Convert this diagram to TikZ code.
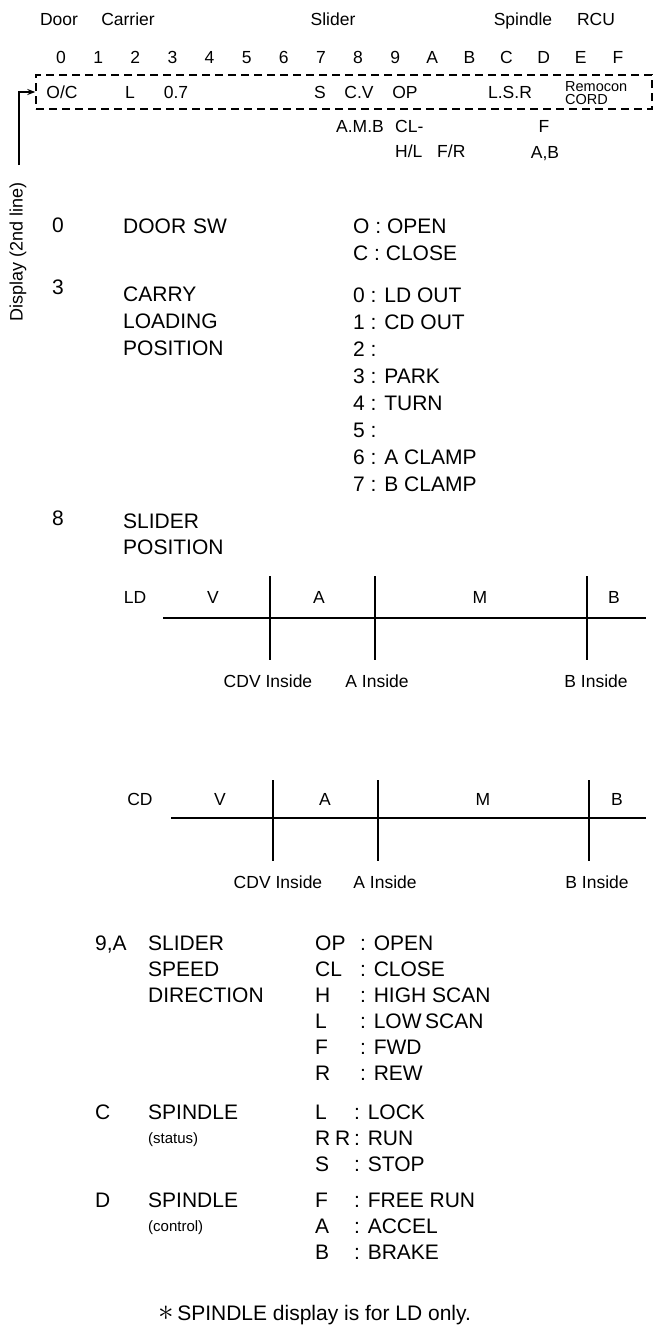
\documentclass[tikz,border=0pt]{standalone}
\usepackage{fontspec}
\setmainfont{Liberation Sans}
\usetikzlibrary{arrows.meta}
\begin{document}
\begin{tikzpicture}[x=1pt,y=-1pt,
  hdr/.style={font=\fontsize{17.5}{20}\selectfont, inner sep=0pt, text height=12.5pt, text depth=0pt},
  txt/.style={font=\fontsize{21}{25}\selectfont, inner sep=0pt, text height=15pt, text depth=0pt},
  smalltxt/.style={font=\fontsize{15}{17}\selectfont, inner sep=0pt, text height=10.7pt, text depth=0pt},
  remtxt/.style={font=\fontsize{14.5}{16}\selectfont, inner sep=0pt, text height=10.4pt, text depth=0pt},
  dispbox/.style={draw, line width=1.4pt, dash pattern=on 8pt off 5pt, inner sep=0pt},
  rule/.style={line width=1.3pt},
  conn/.style={line width=1.4pt, -{Stealth[length=8pt,width=6pt]}}
]
\useasboundingbox (0,0) rectangle (655,1326);

% ---------- header ----------
\node[hdr] (hdoor) at (59,19) {Door};
\node[hdr] (hcarrier) at (128,19) {Carrier};
\node[hdr] (hslider) at (333,19) {Slider};
\node[hdr] (hspindle) at (523,19) {Spindle};
\node[hdr] (hrcu) at (596,19) {RCU};

\foreach \d [count=\i from 0] in {0,1,2,3,4,5,6,7,8,9,A,B,C,D,E,F}
  \node[hdr] (d\d) at ({61+37.13*\i},57) {\d};

% ---------- display box ----------
\node[dispbox, minimum width=616pt, minimum height=34pt] (box) at (344,92) {};
\node[hdr] (boc) at (62,92) {O/C};
\node[hdr] (bl) at (130,92) {L};
\node[hdr] (b07) at (176,92) {0.7};
\node[hdr] (bs) at (320,92) {S};
\node[hdr] (bcv) at (359,92) {C.V};
\node[hdr] (bop) at (405,92) {OP};
\node[hdr] (blsr) at (510,92) {L.S.R};
\node[remtxt, anchor=west] (brem) at (565,86) {Remocon};
\node[remtxt, anchor=west] (bcord) at (565,99) {CORD};

\node[hdr] (uamb) at (360,126) {A.M.B};
\node[hdr, anchor=west] (ucl) at (395,126) {CL-};
\node[hdr] (uf) at (544,126) {F};
\node[hdr, anchor=west] (uhl) at (395,151) {H/L};
\node[hdr, anchor=west] (ufr) at (437,151) {F/R};
\node[hdr] (uab) at (545,152) {A,B};

% ---------- display label and arrow ----------
\coordinate (arrfoot) at (19,165);
\draw[conn] (arrfoot) |- (box.west);
\node[font=\fontsize{18}{20}\selectfont, inner sep=0pt, rotate=90] (disp) at (18,252) {Display (2nd line)};

% ---------- section 0 ----------
\node[txt] (s0) at (58,225) {0};
\node[txt, anchor=west] (s0name) at (123,226) {DOOR\,\,SW};
\node[txt, anchor=west] (s0v1) at (353,226) {O : OPEN};
\node[txt, anchor=west] (s0v2) at (353,253) {C : CLOSE};

% ---------- section 3 ----------
\node[txt] (s3) at (58,287) {3};
\node[txt, anchor=west] (s3n1) at (123,294) {CARRY};
\node[txt, anchor=west] (s3n2) at (123,321) {LOADING};
\node[txt, anchor=west] (s3n3) at (123,348) {POSITION};
\node[txt, anchor=west] (s3v0) at (353,295) {0 : LD OUT};
\node[txt, anchor=west] (s3v1) at (353,322) {1 : CD OUT};
\node[txt, anchor=west] (s3v2) at (353,349) {2 :};
\node[txt, anchor=west] (s3v3) at (353,376) {3 : PARK};
\node[txt, anchor=west] (s3v4) at (353,403) {4 : TURN};
\node[txt, anchor=west] (s3v5) at (353,430) {5 :};
\node[txt, anchor=west] (s3v6) at (353,457) {6 : A CLAMP};
\node[txt, anchor=west] (s3v7) at (353,484) {7 : B CLAMP};

% ---------- section 8 ----------
\node[txt] (s8) at (58,518) {8};
\node[txt, anchor=west] (s8n1) at (123,521) {SLIDER};
\node[txt, anchor=west] (s8n2) at (123,547) {POSITION};

% LD diagram
\node[hdr] (ldlab) at (135,597) {LD};
\node[hdr] (ldv) at (213,597) {V};
\node[hdr] (lda) at (319,597) {A};
\node[hdr] (ldm) at (480,597) {M};
\node[hdr] (ldb) at (614,597) {B};
\coordinate (ldl) at (163,618);
\coordinate (ldr) at (646,618);
\draw[rule] (ldl) -- (ldr);
\coordinate (ldc1t) at (270,576); \coordinate (ldc1b) at (270,660);
\coordinate (ldc2t) at (375,576); \coordinate (ldc2b) at (375,660);
\coordinate (ldc3t) at (587,576); \coordinate (ldc3b) at (587,660);
\draw[rule] (ldc1t) -- (ldc1b);
\draw[rule] (ldc2t) -- (ldc2b);
\draw[rule] (ldc3t) -- (ldc3b);
\node[hdr] (ldi1) at (268,681) {CDV Inside};
\node[hdr] (ldi2) at (377,681) {A Inside};
\node[hdr] (ldi3) at (596,681) {B Inside};

% CD diagram
\node[hdr] (cdlab) at (140,799) {CD};
\node[hdr] (cdv) at (220,799) {V};
\node[hdr] (cda) at (325,799) {A};
\node[hdr] (cdm) at (483,799) {M};
\node[hdr] (cdb) at (617,799) {B};
\coordinate (cdl) at (171,818);
\coordinate (cdr) at (646,818);
\draw[rule] (cdl) -- (cdr);
\coordinate (cdc1t) at (273,780); \coordinate (cdc1b) at (273,861);
\coordinate (cdc2t) at (378,780); \coordinate (cdc2b) at (378,861);
\coordinate (cdc3t) at (589,780); \coordinate (cdc3b) at (589,861);
\draw[rule] (cdc1t) -- (cdc1b);
\draw[rule] (cdc2t) -- (cdc2b);
\draw[rule] (cdc3t) -- (cdc3b);
\node[hdr] (cdi1) at (278,882) {CDV Inside};
\node[hdr] (cdi2) at (385,882) {A Inside};
\node[hdr] (cdi3) at (597,882) {B Inside};

% ---------- section 9,A ----------
\node[txt, anchor=west] (s9) at (95,943) {9,A};
\node[txt, anchor=west] (s9n1) at (148,943) {SLIDER};
\node[txt, anchor=west] (s9n2) at (148,969) {SPEED};
\node[txt, anchor=west] (s9n3) at (148,995) {DIRECTION};
\foreach \k/\a/\b [count=\j from 0] in {op/OP/OPEN, cl/CL/CLOSE, h/H/HIGH SCAN, l/L/LOW\,SCAN, f/F/FWD, r/R/REW} {
  \node[txt, anchor=west] (s9k\k) at (315,{943+26*\j}) {\a};
  \node[txt, anchor=west] (s9v\k) at (360,{943+26*\j}) {: \b};
}

% ---------- section C ----------
\node[txt, anchor=west] (sc) at (95,1112) {C};
\node[txt, anchor=west] (scn1) at (148,1112) {SPINDLE};
\node[smalltxt, anchor=west] (scn2) at (148,1138) {(status)};
\node[txt, anchor=west] (sck1) at (315,1112) {L};
\node[txt, anchor=west] (scv1) at (354,1112) {: LOCK};
\node[txt, anchor=west] (sck2) at (315,1138) {R};
\node[txt, anchor=west] (sck2b) at (335,1138) {R};
\node[txt, anchor=west] (scv2) at (354,1138) {: RUN};
\node[txt, anchor=west] (sck3) at (315,1164) {S};
\node[txt, anchor=west] (scv3) at (354,1164) {: STOP};

% ---------- section D ----------
\node[txt, anchor=west] (sd) at (95,1200) {D};
\node[txt, anchor=west] (sdn1) at (148,1200) {SPINDLE};
\node[smalltxt, anchor=west] (sdn2) at (148,1226) {(control)};
\node[txt, anchor=west] (sdk1) at (315,1200) {F};
\node[txt, anchor=west] (sdv1) at (354,1200) {: FREE RUN};
\node[txt, anchor=west] (sdk2) at (315,1226) {A};
\node[txt, anchor=west] (sdv2) at (354,1226) {: ACCEL};
\node[txt, anchor=west] (sdk3) at (315,1252) {B};
\node[txt, anchor=west] (sdv3) at (354,1252) {: BRAKE};

% ---------- note ----------
\node[txt, anchor=west] (note) at (158,1313) {\raisebox{0.5pt}{\scalebox{1.5}{$\ast$}}\,SPINDLE display is for LD only.};
\end{tikzpicture}
\end{document}
